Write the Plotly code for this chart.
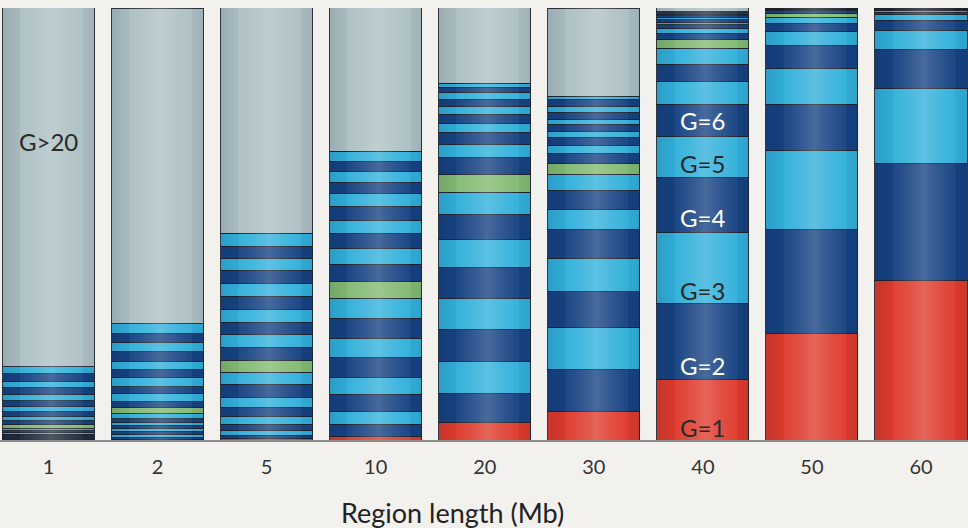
import base64
import struct
import zlib

import plotly.graph_objects as go

# Region lengths (Mb) — x categories
region_lengths = ["1", "2", "5", "10", "20", "30", "40", "50", "60"]

# Group labels in stacking order (bottom to top)
group_labels = ["G=%d" % g for g in range(1, 21)] + ["G>20"]

# Percentage share of each group, per region length (G=1 ... G=20, G>20)
share_1mb = [0.12, 0.16, 0.19, 0.23, 0.28, 0.32, 0.37, 0.42, 0.46, 0.93, 0.93, 0.93, 1.16, 1.16, 1.39, 1.39, 1.62, 1.39, 1.85, 1.62, 83.1]
share_2mb = [0.23, 0.46, 0.58, 0.70, 0.70, 0.70, 0.70, 0.81, 1.16, 1.39, 1.39, 1.85, 1.62, 2.09, 1.85, 1.85, 2.32, 2.09, 2.09, 2.32, 73.1]
share_5mb = [0.35, 0.70, 1.16, 1.39, 1.85, 2.09, 2.32, 3.01, 2.78, 2.78, 3.01, 3.01, 2.78, 3.01, 3.01, 3.01, 3.01, 2.78, 2.78, 3.01, 52.2]
share_10mb = [0.81, 2.78, 3.01, 3.94, 3.94, 4.63, 4.40, 4.63, 4.63, 3.94, 3.94, 3.71, 3.48, 3.01, 3.24, 3.01, 2.55, 2.55, 2.32, 2.32, 33.2]
share_20mb = [4.06, 6.72, 7.42, 7.42, 7.18, 7.18, 6.49, 5.79, 5.10, 4.17, 3.94, 3.01, 2.78, 2.09, 2.09, 1.85, 1.62, 1.62, 1.16, 0.93, 17.4]
share_30mb = [6.60, 9.73, 9.73, 8.34, 7.65, 6.72, 4.63, 4.40, 3.71, 2.55, 2.32, 1.85, 1.85, 1.39, 1.62, 1.16, 1.62, 1.39, 1.62, 0.70, 20.4]
share_40mb = [14.02, 17.61, 16.45, 12.75, 9.50, 7.42, 5.33, 3.94, 3.71, 2.09, 1.39, 1.16, 0.70, 0.58, 0.58, 0.46, 0.46, 0.35, 0.35, 0.23, 0.93]
share_50mb = [24.68, 24.10, 18.31, 10.66, 8.34, 5.33, 3.24, 1.85, 1.39, 0.93, 0.70, 0.15, 0.10, 0.06, 0.05, 0.03, 0.02, 0.02, 0.01, 0.01, 0.04]
share_60mb = [36.96, 27.11, 17.38, 9.04, 4.40, 2.32, 1.39, 0.46, 0.28, 0.19, 0.14, 0.09, 0.07, 0.03, 0.02, 0.02, 0.01, 0.01, 0.01, 0.01, 0.05]

shares = [share_1mb, share_2mb, share_5mb, share_10mb, share_20mb,
          share_30mb, share_40mb, share_50mb, share_60mb]

RED = "#df3a2d"
DARK = "#164282"
LIGHT = "#31b0db"
GREEN = "#82ba72"
GRAY = "#adc0c4"
BG = "#f3f1ed"

BAR_WIDTH = 0.844


def group_color(i):
    g = i + 1
    if g == 1:
        return RED
    if g <= 9:
        return DARK if g % 2 == 0 else LIGHT
    if g == 10:
        return GREEN
    if g <= 20:
        return DARK if g % 2 == 1 else LIGHT
    return GRAY


def shading_png(width=120):
    """Horizontal cylinder-like shading strip (RGBA), lighter in the middle."""
    row = bytearray()
    for px in range(width):
        t = (px + 0.5) / width
        d = min(1.0, abs(t - 0.53) / 0.5)
        a_white = 0.22 * max(0.0, 1 - d) ** 1.6
        a_black = 0.11 * d ** 3
        if a_white >= a_black:
            row += bytes([255, 255, 255, int(round(a_white * 255))])
        else:
            row += bytes([10, 20, 40, int(round(a_black * 255))])
    raw = b"\x00" + bytes(row)

    def chunk(tag, data):
        c = struct.pack(">I", len(data)) + tag + data
        return c + struct.pack(">I", zlib.crc32(tag + data) & 0xFFFFFFFF)

    png = b"\x89PNG\r\n\x1a\n"
    png += chunk(b"IHDR", struct.pack(">IIBBBBB", width, 1, 8, 6, 0, 0, 0))
    png += chunk(b"IDAT", zlib.compress(raw, 9))
    png += chunk(b"IEND", b"")
    return "data:image/png;base64," + base64.b64encode(png).decode()


fig = go.Figure()
for i, name in enumerate(group_labels):
    fig.add_trace(go.Bar(
        x=region_lengths,
        y=[s[i] for s in shares],
        name=name,
        marker=dict(color=group_color(i),
                    line=dict(color="rgba(30,36,46,0.9)", width=1)),
        hoverinfo="name+y",
    ))

shade = shading_png()
images = []
for idx, s in enumerate(shares):
    images.append(dict(
        source=shade, xref="x", yref="y",
        x=idx - BAR_WIDTH / 2, y=sum(s), sizex=BAR_WIDTH, sizey=sum(s),
        xanchor="left", yanchor="top", sizing="stretch", layer="above",
    ))

label_font = dict(family="Lato, Open Sans, sans-serif", size=24)
idx_1mb = region_lengths.index("1")
idx_40mb = region_lengths.index("40")
annotations = [
    dict(x=idx_1mb, y=69.2, text="G>20", font=dict(color="#2a2a2a", **label_font)),
    dict(x=idx_40mb, y=74.0, text="G=6", font=dict(color="#ffffff", **label_font)),
    dict(x=idx_40mb, y=64.1, text="G=5", font=dict(color="#2a2a2a", **label_font)),
    dict(x=idx_40mb, y=51.6, text="G=4", font=dict(color="#ffffff", **label_font)),
    dict(x=idx_40mb, y=34.6, text="G=3", font=dict(color="#2a2a2a", **label_font)),
    dict(x=idx_40mb, y=17.3, text="G=2", font=dict(color="#ffffff", **label_font)),
    dict(x=idx_40mb, y=2.9, text="G=1", font=dict(color="#2a2a2a", **label_font)),
]
for a in annotations:
    a.update(xref="x", yref="y", showarrow=False, xanchor="center", yanchor="middle")

annotations.append(dict(
    xref="paper", yref="paper", x=452 / 968, y=-0.167,
    text="Region length (Mb)", showarrow=False,
    xanchor="center", yanchor="middle",
    font=dict(family="Lato, Open Sans, sans-serif", size=27, color="#222222"),
))

fig.update_layout(
    width=968, height=528,
    barmode="stack",
    bargap=1 - BAR_WIDTH,
    showlegend=False,
    paper_bgcolor=BG,
    plot_bgcolor=BG,
    margin=dict(l=0, r=0, t=8, b=88),
    annotations=annotations,
    images=images,
    xaxis=dict(
        type="category",
        range=[-0.445, 8.431],
        showline=True, linecolor="#8c8c8c", linewidth=2,
        ticks="outside", ticklen=8, tickcolor="rgba(0,0,0,0)",
        tickfont=dict(family="Lato, Open Sans, sans-serif", size=20, color="#333333"),
        showgrid=False, zeroline=False,
    ),
    yaxis=dict(
        range=[0, 100], visible=False, showgrid=False, zeroline=False,
    ),
)

fig.write_html(
    "out.html",
    config={"displayModeBar": False},
    post_script="document.body.style.margin='0px';document.body.style.background='%s';" % BG,
)
